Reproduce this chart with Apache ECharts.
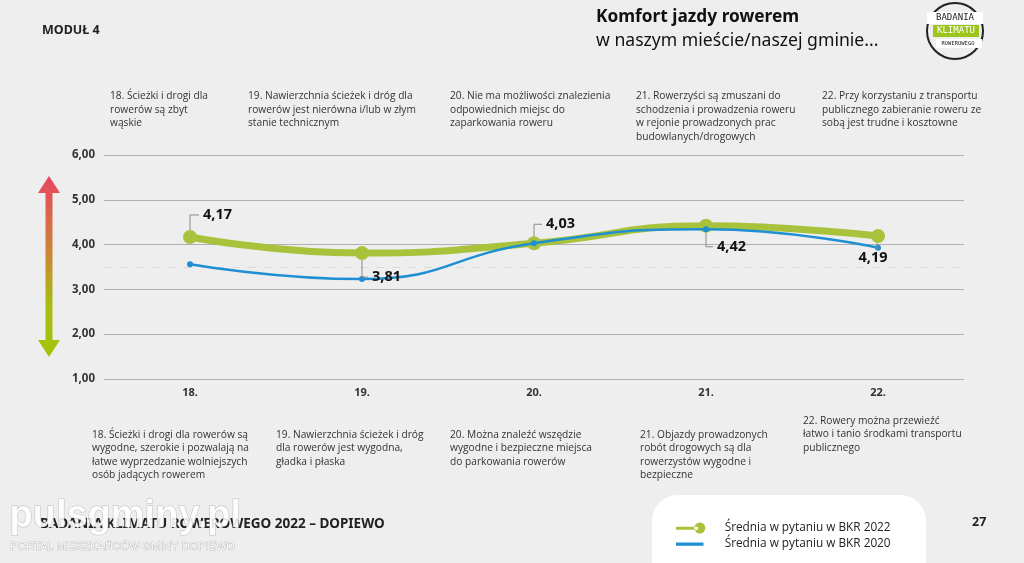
<!DOCTYPE html>
<html><head><meta charset="utf-8">
<script src="https://cdn.jsdelivr.net/npm/echarts@6/dist/echarts.min.js"></script>
<style>html,body{margin:0;padding:0;background:#eeeeee}#c{width:1024px;height:563px}</style>
</head><body><div id="c"></div>
<script>
const categories = ['18.', '19.', '20.', '21.', '22.'];
const bkr2022 = [4.17, 3.81, 4.03, 4.42, 4.19];
const bkr2020 = [3.56, 3.23, 4.03, 4.34, 3.93];
const yTicks = [1, 2, 3, 4, 5, 6];
const topTexts = [
  '18. Ścieżki i drogi dla\nrowerów są zbyt\nwąskie',
  '19. Nawierzchnia ścieżek i dróg dla\nrowerów jest nierówna i/lub w złym\nstanie technicznym',
  '20. Nie ma możliwości znalezienia\nodpowiednich miejsc do\nzaparkowania roweru',
  '21. Rowerzyści są zmuszani do\nschodzenia i prowadzenia roweru\nw rejonie prowadzonych prac\nbudowlanych/drogowych',
  '22. Przy korzystaniu z transportu\npublicznego zabieranie roweru ze\nsobą jest trudne i kosztowne'
];
const bottomTexts = [
  '18. Ścieżki i drogi dla rowerów są\nwygodne, szerokie i pozwalają na\nłatwe wyprzedzanie wolniejszych\nosób jadących rowerem',
  '19. Nawierzchnia ścieżek i dróg\ndla rowerów jest wygodna,\ngładka i płaska',
  '20. Można znaleźć wszędzie\nwygodne i bezpieczne miejsca\ndo parkowania rowerów',
  '21. Objazdy prowadzonych\nrobót drogowych są dla\nrowerzystów wygodne i\nbezpieczne',
  '22. Rowery można przewieźć\nłatwo i tanio środkami transportu\npublicznego'
];
const seriesNames = ['Średnia w pytaniu w BKR 2022', 'Średnia w pytaniu w BKR 2020'];
const midLine = 3.5;

// label placement (style only, pixels relative to symbol centre): [dx, dy, align]
const labelPlace = [[13, -22, 'left'], [10, 24, 'left'], [12, -19, 'left'], [11, 21, 'left'], [-5, 22, 'center']];
const topX = [110, 248, 450, 636, 822];
const bottomX = [92, 276, 450, 640, 803];
const bottomY = [428, 428, 428, 428, 414];

const fmt = v => v.toFixed(2).replace('.', ',');
const green = '#a8c23c', blue = '#1e8fd2';
const textFont = '"Open Sans", sans-serif';

const chart = echarts.init(document.getElementById('c'));

const graphics = [];
topTexts.forEach((t, i) => graphics.push({
  type: 'text', left: topX[i], top: 89,
  style: { text: t, font: '10.2px ' + textFont, fill: '#333', lineHeight: 13.8 }
}));
bottomTexts.forEach((t, i) => graphics.push({
  type: 'text', left: bottomX[i], top: bottomY[i],
  style: { text: t, font: '10.2px ' + textFont, fill: '#333', lineHeight: 13.5 }
}));
graphics.push(
  { type: 'text', left: 42, top: 24, style: { text: 'MODUŁ 4', font: 'bold 12.5px "Noto Sans", sans-serif', fill: '#222' } },
  { type: 'text', left: 596, top: 9, style: { text: 'Komfort jazdy rowerem', font: 'bold 17.3px "Noto Sans", sans-serif', fill: '#111' } },
  { type: 'text', left: 596, top: 32, style: { text: 'w naszym mieście/naszej gminie...', font: '17.6px "Noto Sans", sans-serif', fill: '#111' } },
  // logo
  { type: 'circle', shape: { cx: 955, cy: 31, r: 28 }, style: { fill: 'none', stroke: '#222', lineWidth: 2 } },
  { type: 'rect', shape: { x: 927, y: 12, width: 56, height: 12 }, style: { fill: '#fff' } },
  { type: 'text', x: 955, y: 18, style: { text: 'BADANIA', font: '9px "DejaVu Sans Mono", monospace', fill: '#222', align: 'center', verticalAlign: 'middle' } },
  { type: 'rect', shape: { x: 933, y: 25, width: 46, height: 12 }, style: { fill: '#9cc41c' } },
  { type: 'text', x: 956, y: 31, style: { text: 'KLIMATU', font: '9px "DejaVu Sans Mono", monospace', fill: '#fff', align: 'center', verticalAlign: 'middle' } },
  { type: 'rect', shape: { x: 936, y: 39, width: 46, height: 9 }, style: { fill: '#fff' } },
  { type: 'text', x: 958, y: 44, style: { text: 'ROWEROWEGO', font: '5.5px "DejaVu Sans Mono", monospace', fill: '#222', align: 'center', verticalAlign: 'middle' } },
  // gradient arrow
  { type: 'polygon', shape: { points: [[49, 176], [60, 193], [52.5, 193], [52.5, 340], [60, 340], [49, 357], [38, 340], [45.5, 340], [45.5, 193], [38, 193]] },
    style: { fill: new echarts.graphic.LinearGradient(0, 0, 0, 1, [
      { offset: 0, color: '#ea4560' }, { offset: 0.45, color: '#c98a33' }, { offset: 0.7, color: '#aabb14' }, { offset: 1, color: '#a6c40a' }]) } },
  // legend box
  { type: 'rect', z: 0, shape: { x: 652, y: 495, width: 274, height: 95, r: 26 }, style: { fill: '#fff' } },
  { type: 'text', left: 972, top: 516, style: { text: '27', font: 'bold 12.5px "Noto Sans", sans-serif', fill: '#222' } },
  { type: 'text', left: 40, top: 517, style: { text: 'BADANIA KLIMATU ROWEROWEGO 2022 – DOPIEWO', font: 'bold 13.5px "Noto Sans", sans-serif', fill: '#222' } },
  // watermark
  { type: 'text', left: 9, top: 497, z: 10, style: { text: 'pulsgminy.pl', font: 'bold 38px "Liberation Sans", sans-serif', fill: 'rgba(255,255,255,0.88)', stroke: 'rgba(150,150,150,0.55)', lineWidth: 1 } },
  { type: 'text', left: 10, top: 541, z: 10, style: { text: 'PORTAL MIESZKAŃCÓW GMINY DOPIEWO', font: '11px "Liberation Sans", sans-serif', fill: 'rgba(255,255,255,0.95)', stroke: 'rgba(140,140,140,0.7)', lineWidth: 0.7 } }
);

chart.setOption({
  backgroundColor: '#eeeeee',
  animation: false,
  grid: { left: 104, right: 60, top: 155, height: 224 },
  legend: {
    orient: 'vertical', left: 671, top: 517, z: 5, itemWidth: 30, itemHeight: 11, itemGap: 4,
    textStyle: { fontFamily: textFont, fontSize: 11.8, color: '#222', padding: [0, 0, 0, 14] },
    data: [
      { name: seriesNames[0], icon: 'path://M0,4.5h24v3.5h-24z M20,6a6,6 0 1,0 12,0a6,6 0 1,0 -12,0z', itemStyle: { color: green } },
      { name: seriesNames[1], icon: 'path://M0,4.5h30v3.5h-30z M0,0h0.01v0.01h-0.01z M32,12h0.01v0.01h-0.01z', itemStyle: { color: blue } }
    ]
  },
  xAxis: {
    type: 'category', data: categories, boundaryGap: true,
    axisLine: { show: false }, axisTick: { show: false },
    axisLabel: { fontFamily: '"Noto Sans", sans-serif', fontWeight: 'bold', fontSize: 11, color: '#333', margin: 8 }
  },
  yAxis: {
    type: 'value', min: yTicks[0], max: yTicks[yTicks.length - 1], interval: 1,
    axisLabel: { formatter: v => fmt(v), fontFamily: '"Noto Sans", sans-serif', fontWeight: 'bold', fontSize: 11.5, color: '#333', margin: 9 },
    axisLine: { show: false }, axisTick: { show: false },
    splitLine: { lineStyle: { color: '#b0b0b0', width: 1 } }
  },
  series: [
    {
      name: 'ref', type: 'line', data: [], z: 1, silent: true,
      markLine: {
        silent: true, symbol: 'none', label: { show: false }, z: 1,
        lineStyle: { color: '#dadada', type: [8, 8], width: 1 },
        data: [{ yAxis: midLine }]
      }
    },
    {
      name: seriesNames[0], type: 'line', data: bkr2022, smooth: 0.5, z: 3,
      symbol: 'circle', symbolSize: 14,
      lineStyle: { color: green, width: 7 }, itemStyle: { color: green }
    },
    {
      name: seriesNames[1], type: 'line', data: bkr2020, smooth: 0.5, z: 4,
      symbol: 'circle', symbolSize: 6,
      lineStyle: { color: blue, width: 2.5 }, itemStyle: { color: blue }
    },
    {
      name: 'labels', type: 'custom', z: 6, silent: true,
      data: bkr2022.map((v, i) => [i, v]),
      renderItem: (params, api) => {
        const i = api.value(0), v = api.value(1);
        const c = api.coord([i, v]);
        const p = labelPlace[params.dataIndex];
        const ly = c[1] + p[1];
        const children = [];
        if (p[2] === 'left') {
          children.push({ type: 'polyline', shape: { points: [[c[0], c[1] + (p[1] < 0 ? -7 : 7)], [c[0], ly], [c[0] + p[0] - 4, ly]] },
            style: { stroke: '#8a8a8a', lineWidth: 1, fill: null } });
        } else {
          children.push({ type: 'line', shape: { x1: c[0] - 1, y1: c[1] + 7, x2: c[0] - 1, y2: ly - 8 }, style: { stroke: '#8a8a8a', lineWidth: 1 } });
        }
        children.push({ type: 'text', x: c[0] + p[0], y: ly,
          style: { text: fmt(v), font: 'bold 14.5px "Noto Sans", sans-serif', fill: '#111', align: p[2], verticalAlign: 'middle' } });
        return { type: 'group', children };
      }
    }
  ],
  graphic: graphics
});
</script></body></html>
